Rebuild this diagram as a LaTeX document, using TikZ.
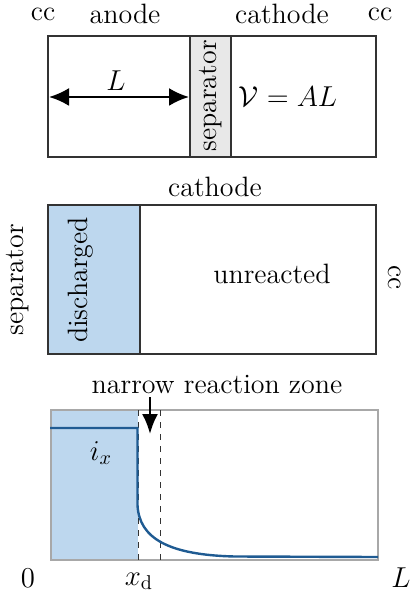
\documentclass[tikz,border=0pt]{standalone}
\usetikzlibrary{arrows.meta}
\definecolor{dblue}{HTML}{1F5B92}
\definecolor{lblue}{HTML}{BDD7EE}
\definecolor{lgray}{HTML}{E8E8E8}
\definecolor{bgray}{HTML}{A8A8A8}
\begin{document}
\begin{tikzpicture}[x=0.5pt,y=-0.5pt,
  lab/.style={inner sep=0pt,font=\fontsize{14}{16}\selectfont},
  boxline/.style={draw=black!80,line width=0.6pt}]
\useasboundingbox (0,0) rectangle (409,592);
% ---- top box ----
\node[lab] (cc1) at (43,14) {cc};
\node[lab] (an) at (125,14) {anode};
\node[lab] (ca1) at (282,14) {cathode};
\node[lab] (cc2) at (380,14) {cc};
\filldraw[fill=lgray,boxline] (190,36) rectangle (231,157);
\draw[boxline] (48,36) rectangle (376,157);
\node[lab,rotate=90] (sep1) at (210.5,96) {separator};
\coordinate (aL) at (49,97);
\coordinate (aR) at (189,97);
\draw[line width=1.2pt,{Latex[length=10pt,width=9pt]}-{Latex[length=10pt,width=9pt]}] (aL) -- (aR);
\node[lab] (L1) at (116,81) {$L$};
\node[lab] (VAL) at (288,97) {$\mathcal{V}=AL$};
% ---- middle box ----
\node[lab] (ca2) at (215,187) {cathode};
\filldraw[fill=lblue,boxline] (48,205) rectangle (140,354);
\draw[boxline] (48,205) rectangle (376,354);
\node[lab,rotate=90] (sep2) at (18,280) {separator};
\node[lab,rotate=90] (dis) at (81,280) {discharged};
\node[lab] (unr) at (272,274) {unreacted};
\node[lab,rotate=-90] (cc3) at (395,278) {cc};
% ---- plot ----
\fill[lblue] (51,410) rectangle (138,560);
\draw[bgray,line width=0.6pt] (51,410) rectangle (378,560);
\draw[dashed,black!80,line width=0.5pt] (138,410) -- (138,560);
\draw[dashed,black!80,line width=0.5pt] (160,410) -- (160,560);
\draw[dblue,line width=1.2pt] (50,428) -- (137.5,428) -- (137.5,505)
  .. controls (139,538) and (168,555) .. (235,556.5) -- (378,557);
\node[lab] (nrz) at (217,384) {narrow reaction zone};
\coordinate (arT) at (150,397);
\coordinate (arB) at (150,434);
\draw[line width=1.2pt,-{Latex[length=10pt,width=8pt]}] (arT) -- (arB);
\node[lab] (ix) at (101,453) {$i_x$};
\node[lab] (zero) at (28,578) {$0$};
\node[lab] (xd) at (139,581) {$x_{\mathrm{d}}$};
\node[lab] (L2) at (401,578) {$L$};
\end{tikzpicture}
\end{document}
